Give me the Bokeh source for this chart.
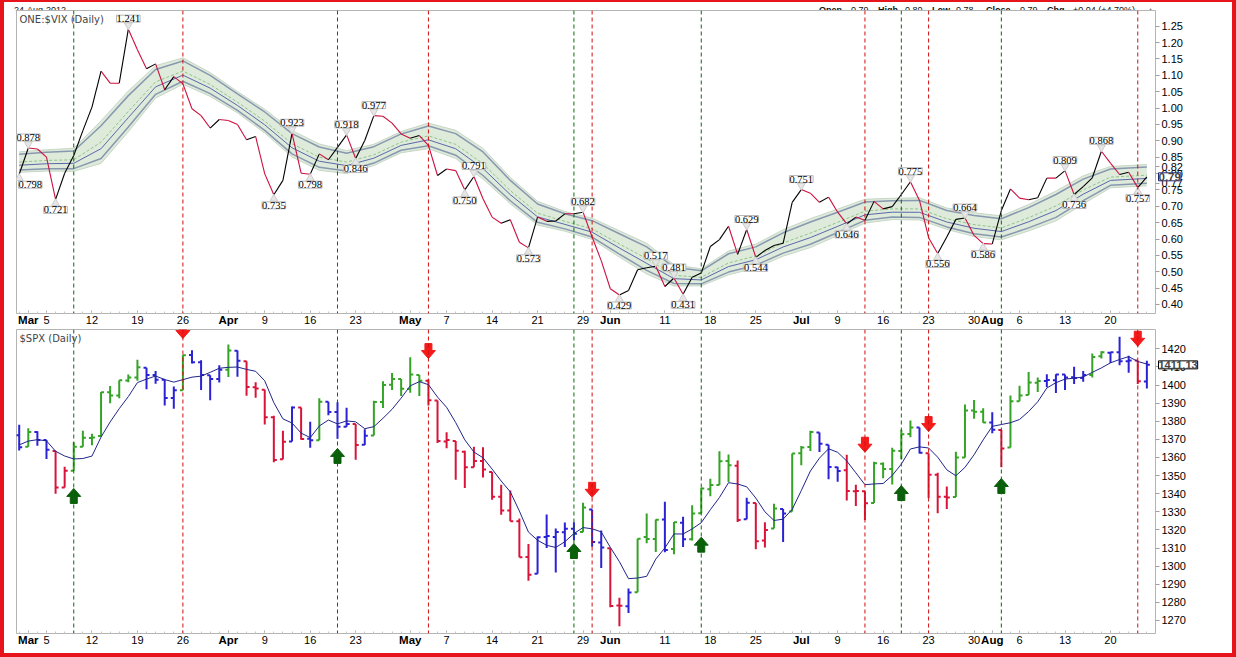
from bokeh.plotting import figure
from bokeh.layouts import column
from bokeh.models import (Range1d, Span, Label, LabelSet, FixedTicker, Div, LinearAxis,
                          NumeralTickFormatter, ColumnDataSource)
from bokeh.embed import file_html
from bokeh.resources import INLINE

# ---------------- data ----------------
# trading-day index 0 = 29 Feb 2012 ... 124 = 24 Aug 2012
day_tick_idx = [3, 8, 13, 18, 27, 32, 37, 47, 52, 57, 62, 71, 76, 81, 90, 95, 100, 105,
                110, 115, 120]
day_tick_labels = ["5", "12", "19", "26", "9", "16", "23", "7", "14", "21", "29", "11",
                   "18", "25", "9", "16", "23", "30", "6", "13", "20"]
month_tick_idx = [1, 23, 43, 65, 86, 107]
month_tick_labels = ["Mar", "Apr", "May", "Jun", "Jul", "Aug"]

vix_ratio = [0.798, 0.878, 0.875, 0.850, 0.721, 0.801, 0.855, 0.931, 1.003, 1.113,
             1.076, 1.076, 1.241, 1.178, 1.120, 1.135, 1.056, 1.096, 1.074, 0.998,
             0.977, 0.939, 0.965, 0.962, 0.950, 0.903, 0.913, 0.799, 0.735, 0.779,
             0.923, 0.801, 0.798, 0.860, 0.842, 0.880, 0.918, 0.846, 0.901, 0.977,
             0.975, 0.954, 0.921, 0.908, 0.916, 0.886, 0.794, 0.814, 0.809, 0.750,
             0.791, 0.723, 0.667, 0.648, 0.659, 0.590, 0.573, 0.667, 0.654, 0.655,
             0.677, 0.677, 0.682, 0.606, 0.534, 0.448, 0.429, 0.443, 0.506, 0.512,
             0.517, 0.455, 0.481, 0.431, 0.483, 0.496, 0.577, 0.598, 0.639, 0.553,
             0.629, 0.544, 0.565, 0.580, 0.587, 0.712, 0.751, 0.740, 0.712, 0.728,
             0.682, 0.646, 0.667, 0.657, 0.715, 0.692, 0.699, 0.736, 0.775, 0.718,
             0.604, 0.556, 0.606, 0.660, 0.664, 0.611, 0.586, 0.585, 0.687, 0.753,
             0.725, 0.720, 0.726, 0.786, 0.786, 0.809, 0.736, 0.760, 0.787, 0.868,
             0.832, 0.797, 0.804, 0.757, 0.790]

band_idx = [0, 3, 6, 9, 12, 15, 18, 21, 24, 27, 30, 33, 36, 39, 42, 45, 48, 51, 54,
            57, 60, 63, 66, 69, 72, 75, 78, 81, 84, 87, 90, 93, 96, 99, 102, 105,
            108, 111, 114, 117, 120, 124]
band_mid = [0.835, 0.840, 0.842, 0.896, 0.990, 1.080, 1.113, 1.072, 1.018, 0.960,
            0.891, 0.850, 0.835, 0.857, 0.896, 0.915, 0.889, 0.830, 0.748, 0.679,
            0.654, 0.631, 0.585, 0.540, 0.489, 0.483, 0.527, 0.548, 0.588, 0.618,
            0.651, 0.685, 0.692, 0.692, 0.662, 0.644, 0.634, 0.665, 0.701, 0.750,
            0.789, 0.795]
band_half = [0.024, 0.025, 0.027, 0.050, 0.048, 0.038, 0.031, 0.028, 0.025, 0.028,
             0.031, 0.031, 0.027, 0.025, 0.025, 0.030, 0.033, 0.036, 0.031, 0.028,
             0.023, 0.025, 0.031, 0.036, 0.025, 0.020, 0.028, 0.028, 0.031, 0.034,
             0.031, 0.028, 0.025, 0.026, 0.025, 0.028, 0.028, 0.031, 0.035, 0.033,
             0.025, 0.025]
band_last_val = [0.77, 0.82]            # lower / upper band on 24 Aug (marked on the axis)
vix_last_txt = "0.79"

peak_idx = [1, 12, 30, 36, 39, 50, 62, 70, 72, 80, 86, 98, 104, 115, 119]
peak_txt = ["0.878", "1.241", "0.923", "0.918", "0.977", "0.791", "0.682", "0.517",
            "0.481", "0.629", "0.751", "0.775", "0.664", "0.809", "0.868"]
trough_idx = [0, 4, 28, 32, 37, 49, 56, 66, 73, 81, 91, 101, 106, 116, 123]
trough_txt = ["0.798", "0.721", "0.735", "0.798", "0.846", "0.750", "0.573", "0.429",
              "0.431", "0.544", "0.646", "0.556", "0.586", "0.736", "0.757"]

spx_open = [1372.20, 1365.90, 1374.09, 1369.59, 1363.63, 1343.39, 1352.65, 1365.97, 1370.78, 1371.92,
            1395.95, 1394.17, 1402.55, 1404.17, 1409.59, 1405.52, 1402.89, 1392.78, 1397.11, 1416.55,
            1412.52, 1405.39, 1403.31, 1408.47, 1418.98, 1413.09, 1398.79, 1397.45, 1382.18, 1358.98,
            1368.77, 1387.61, 1370.27, 1369.57, 1390.78, 1385.08, 1376.96, 1378.53, 1366.97, 1372.11,
            1390.64, 1400.19, 1403.26, 1397.86, 1405.50, 1402.32, 1391.51, 1368.79, 1369.16, 1363.20,
            1354.58, 1358.11, 1351.93, 1338.36, 1330.78, 1324.82, 1305.05, 1295.73, 1316.09, 1316.02,
            1318.72, 1320.64, 1318.90, 1331.25, 1313.09, 1309.87, 1278.29, 1277.82, 1285.61, 1316.15,
            1314.99, 1325.72, 1309.40, 1324.02, 1314.88, 1329.19, 1342.42, 1344.83, 1358.04, 1355.43,
            1325.92, 1334.90, 1314.09, 1320.71, 1331.52, 1330.12, 1362.33, 1365.75, 1373.72, 1367.09,
            1354.66, 1352.96, 1341.40, 1341.29, 1334.81, 1356.50, 1353.68, 1363.58, 1373.01, 1376.51,
            1362.34, 1350.52, 1338.35, 1338.17, 1360.05, 1385.94, 1385.27, 1379.32, 1375.13, 1365.45,
            1391.04, 1394.46, 1401.23, 1402.26, 1402.58, 1405.87, 1404.36, 1403.89, 1405.57, 1415.84,
            1417.85, 1418.13, 1413.09, 1413.49, 1401.99]
spx_high = [1378.04, 1376.17, 1374.53, 1369.59, 1363.63, 1354.85, 1368.41, 1374.76, 1373.04, 1396.13,
            1399.42, 1402.63, 1405.88, 1414.00, 1409.59, 1407.75, 1402.89, 1399.18, 1416.58, 1419.15,
            1413.65, 1405.39, 1410.89, 1422.38, 1419.00, 1413.09, 1401.60, 1397.45, 1383.01, 1374.71,
            1388.13, 1387.61, 1379.66, 1392.76, 1390.78, 1390.46, 1387.40, 1378.53, 1375.57, 1391.37,
            1402.09, 1406.64, 1403.26, 1415.32, 1405.50, 1403.07, 1391.51, 1373.91, 1369.16, 1363.73,
            1365.88, 1365.66, 1351.93, 1344.94, 1341.78, 1326.36, 1312.24, 1316.39, 1328.49, 1320.71,
            1324.14, 1324.20, 1334.93, 1331.25, 1319.74, 1309.87, 1282.55, 1287.62, 1315.13, 1329.05,
            1325.81, 1335.52, 1324.31, 1327.28, 1333.68, 1343.32, 1348.22, 1363.46, 1361.57, 1358.27,
            1337.82, 1334.90, 1324.24, 1334.40, 1331.52, 1362.17, 1366.35, 1374.81, 1373.85, 1367.09,
            1354.87, 1361.54, 1345.00, 1341.29, 1357.70, 1357.26, 1365.36, 1375.26, 1380.39, 1376.51,
            1362.34, 1351.53, 1343.98, 1363.13, 1389.19, 1391.74, 1387.16, 1385.03, 1375.13, 1394.16,
            1399.63, 1407.14, 1404.14, 1405.95, 1405.98, 1405.87, 1410.03, 1407.73, 1417.44, 1418.71,
            1418.13, 1426.68, 1416.12, 1413.49, 1413.46]
spx_low = [1363.81, 1365.90, 1366.42, 1359.09, 1340.03, 1343.39, 1352.65, 1365.97, 1366.69, 1371.92,
           1389.97, 1392.72, 1401.47, 1402.43, 1397.68, 1400.64, 1388.73, 1386.87, 1397.11, 1411.95,
           1397.20, 1391.56, 1401.42, 1404.46, 1404.62, 1394.09, 1392.92, 1378.24, 1357.38, 1358.98,
           1368.77, 1369.85, 1365.38, 1369.57, 1383.29, 1370.30, 1376.96, 1358.79, 1366.82, 1372.11,
           1387.28, 1397.31, 1394.00, 1395.73, 1393.92, 1388.71, 1367.96, 1365.12, 1347.75, 1343.13,
           1354.58, 1348.89, 1336.61, 1328.41, 1324.79, 1304.86, 1291.98, 1295.73, 1310.04, 1296.53,
           1310.50, 1314.23, 1318.90, 1310.76, 1298.90, 1277.25, 1266.74, 1274.16, 1285.61, 1312.68,
           1307.77, 1307.73, 1306.62, 1310.51, 1314.14, 1329.19, 1338.61, 1344.83, 1346.45, 1324.41,
           1325.92, 1309.27, 1310.30, 1320.71, 1313.29, 1330.12, 1355.70, 1363.53, 1363.02, 1348.03,
           1346.65, 1336.27, 1333.25, 1325.41, 1334.81, 1348.51, 1345.07, 1358.96, 1371.21, 1362.19,
           1337.56, 1329.24, 1331.50, 1338.17, 1360.05, 1381.37, 1379.17, 1373.35, 1354.65, 1365.45,
           1391.04, 1394.46, 1396.13, 1398.80, 1395.62, 1397.32, 1400.60, 1401.83, 1404.15, 1414.67,
           1412.12, 1410.86, 1406.78, 1400.50, 1398.04]
spx_close = [1365.68, 1374.09, 1369.63, 1364.33, 1343.36, 1352.63, 1365.91, 1370.87, 1371.09, 1395.95,
             1394.28, 1402.60, 1404.17, 1409.75, 1405.52, 1402.89, 1392.78, 1397.11, 1416.51, 1412.52,
             1405.54, 1403.28, 1408.47, 1419.04, 1413.38, 1398.96, 1398.08, 1382.20, 1358.59, 1368.71,
             1387.57, 1370.26, 1369.57, 1390.78, 1385.14, 1376.92, 1378.53, 1366.94, 1371.97, 1390.69,
             1399.98, 1403.36, 1397.91, 1405.82, 1402.31, 1391.57, 1369.10, 1369.58, 1363.72, 1354.58,
             1357.99, 1353.39, 1338.35, 1330.66, 1324.80, 1304.86, 1295.22, 1315.99, 1316.63, 1318.86,
             1320.68, 1317.82, 1332.42, 1313.32, 1310.33, 1278.04, 1278.18, 1285.50, 1315.13, 1314.99,
             1325.66, 1308.93, 1324.18, 1314.88, 1329.10, 1342.84, 1344.78, 1357.98, 1355.69, 1325.51,
             1335.02, 1313.72, 1319.99, 1331.85, 1329.04, 1362.16, 1365.51, 1374.02, 1367.58, 1354.68,
             1352.46, 1341.47, 1341.45, 1334.76, 1356.78, 1353.64, 1363.67, 1372.78, 1376.51, 1362.66,
             1350.52, 1338.31, 1337.89, 1360.02, 1385.97, 1385.30, 1379.32, 1375.32, 1365.00, 1390.99,
             1394.23, 1401.35, 1402.22, 1402.80, 1405.87, 1404.11, 1403.93, 1405.53, 1415.51, 1418.16,
             1418.13, 1413.17, 1413.49, 1402.08, 1411.13]
spx_prior_close = [1363.46, 1365.74, 1367.59, 1372.18]   # 23-28 Feb, for the 5-day average
bar_state = ("bgbbrrgggg" "ggggbbbbgb" "bbbgbrrrrr" "brbgbbbrbg" "gggggrrrrr"
             "rrrrrrrbbb" "bbgbbrrbgg" "gbgbgggggr" "brrgbgggbb" "brrrgggggb"
             "rrrggggbrg" "gggbbbbbgg" "bbbrb")

buy_idx = [6, 35, 61, 75, 97, 108]
buy_tip = [1342.9, 1365.0, 1312.5, 1316.0, 1344.5, 1348.4]
sell_idx = [18, 45, 63, 93, 100, 123]
sell_tip = [1425.7, 1414.6, 1338.0, 1362.9, 1374.3, 1421.4]

header_left = "24-Aug-2012"
header_parts = [("Open", "0.79"), ("High", "0.80"), ("Low", "0.78"), ("Close", "0.79"),
                ("Chg", "+0.04 (+4.70%)")]

# ---------------- style / layout constants ----------------
FONT = "Liberation Sans"
W = 1228
X0, X1 = -0.297, 124.95
FRAME_W = 1139
LEFT_B = 12
TOP_Y0, TOP_Y1 = 0.3725, 1.298
TOP_FRAME_H = 303
BOT_Y0, BOT_Y1 = 1262.8, 1430.66
BOT_FRAME_H = 304
BAR_COL = {"g": "#35a326", "b": "#2a22d4", "r": "#d8143a"}
HDR_X = [(815, 847), (874, 901), (928, 952), (982, 1016), (1043, 1069)]


def base_fig(height, y0, y1, top, bottom):
    p = figure(width=W, height=height, x_range=Range1d(X0, X1), y_range=Range1d(y0, y1),
               output_backend="svg", toolbar_location=None, y_axis_location="right",
               min_border_left=LEFT_B, min_border_right=W - LEFT_B - FRAME_W,
               min_border_top=top, min_border_bottom=bottom)
    p.xgrid.visible = False
    p.ygrid.visible = False
    p.outline_line_color = "#b4b4b4"
    p.background_fill_color = "white"
    p.border_fill_color = "white"
    all_ticks = sorted(day_tick_idx + month_tick_idx)
    xa = p.xaxis[0]
    xa.ticker = FixedTicker(ticks=all_ticks, minor_ticks=list(range(len(spx_close))))
    overrides = {i: t for i, t in zip(day_tick_idx, day_tick_labels)}
    overrides.update({i: "" for i in month_tick_idx})
    xa.major_label_overrides = overrides
    xa.axis_line_color = None
    xa.major_tick_in = 3
    xa.major_tick_out = 0
    xa.minor_tick_in = 2
    xa.minor_tick_out = 0
    xa.major_tick_line_color = "#a0a0a0"
    xa.minor_tick_line_color = "#c8c8c8"
    xa.major_label_standoff = 2
    xa.major_label_text_font = FONT
    xa.major_label_text_font_size = "11px"
    xa.major_label_text_color = "black"
    # bold month names, drawn on the same row as the day numbers
    mx = LinearAxis(ticker=FixedTicker(ticks=month_tick_idx),
                    major_label_overrides={i: t for i, t in zip(month_tick_idx, month_tick_labels)},
                    axis_line_color=None, major_tick_line_color=None, minor_tick_line_color=None,
                    major_tick_in=0, major_tick_out=0, minor_tick_in=0, minor_tick_out=0,
                    major_label_standoff=-13, major_label_text_font=FONT,
                    major_label_text_font_size="11.5px", major_label_text_font_style="bold",
                    major_label_text_color="black")
    p.add_layout(mx, "below")
    ya = p.yaxis[0]
    ya.axis_line_color = None
    ya.major_tick_in = 0
    ya.major_tick_out = 4
    ya.minor_tick_line_color = None
    ya.major_tick_line_color = "#a0a0a0"
    ya.major_label_standoff = 2
    ya.major_label_text_font = FONT
    ya.major_label_text_font_size = "11px"
    ya.major_label_text_color = "black"
    for i in buy_idx:
        p.add_layout(Span(location=i, dimension="height", line_color="#0b6a0b",
                          line_dash="4 3", line_width=1))
    for i in sell_idx:
        p.add_layout(Span(location=i, dimension="height", line_color="#d01010",
                          line_dash="4 3", line_width=1))
    return p


n = len(spx_close)
idx = list(range(n))

# ---------------- header strip ----------------
hdr = ('<div style="position:relative;width:%dpx;height:8px;'
       'font-family:\'Liberation Sans\',Arial,sans-serif;font-size:9px;line-height:8px;'
       'color:#111;white-space:nowrap;">' % W)
hdr += '<span style="position:absolute;left:10px;top:0px;">%s</span>' % header_left
for (k, v), (xa_, xb_) in zip(header_parts, HDR_X):
    hdr += '<span style="position:absolute;left:%dpx;top:0px;font-weight:bold;">%s</span>' % (xa_, k)
    hdr += '<span style="position:absolute;left:%dpx;top:0px;">%s</span>' % (xb_, v)
hdr += '<span style="position:absolute;left:1143px;top:0px;color:#777;font-size:7px;">&#9650;</span></div>'
p0 = Div(text=hdr, width=W, height=8, margin=0)

# ---------------- top panel: ONE:$VIX ----------------
p1 = base_fig(319, TOP_Y0, TOP_Y1, 0, 16)
top_ticks = sorted([round(0.40 + 0.05 * k, 2) for k in range(18)] + band_last_val)
p1.yaxis[0].ticker = FixedTicker(ticks=top_ticks)
p1.yaxis[0].formatter = NumeralTickFormatter(format="0.00")

outer_hi = [m + h * 1.3 for m, h in zip(band_mid, band_half)]
outer_lo = [m - h * 1.3 for m, h in zip(band_mid, band_half)]
p1.varea(x=band_idx, y1=outer_lo, y2=outer_hi, fill_color="#deeada", fill_alpha=1.0)
p1.line(band_idx, outer_hi, line_color="#c6d6c6", line_width=1)
p1.line(band_idx, outer_lo, line_color="#c6d6c6", line_width=1)
p1.line(band_idx, [m + h for m, h in zip(band_mid, band_half)], line_color="#8898b0", line_width=1.5)
p1.line(band_idx, [m - h for m, h in zip(band_mid, band_half)], line_color="#8898b0", line_width=1.5)
p1.line(band_idx, [m - h * 0.4 for m, h in zip(band_mid, band_half)], line_color="#5a68aa", line_width=1)
p1.line(band_idx, band_mid, line_color="#8fc48a", line_width=1, line_dash="3 2")

seg = ColumnDataSource(dict(
    x0=idx[:-1], y0=vix_ratio[:-1], x1=idx[1:], y1=vix_ratio[1:],
    c=["black" if b > a else "#cc1040" for a, b in zip(vix_ratio[:-1], vix_ratio[1:])]))
p1.segment("x0", "y0", "x1", "y1", source=seg, line_color="c", line_width=1.1)

ppu_top = TOP_FRAME_H / (TOP_Y1 - TOP_Y0)
p1.scatter(peak_idx, [vix_ratio[i] + 4 / ppu_top for i in peak_idx],
           marker="inverted_triangle", size=8, fill_color="#e6e6e6", line_color="#cccccc")
p1.scatter(trough_idx, [vix_ratio[i] - 4 / ppu_top for i in trough_idx],
           marker="triangle", size=8, fill_color="#e6e6e6", line_color="#cccccc")

pk = ColumnDataSource(dict(x=peak_idx, y=[vix_ratio[i] for i in peak_idx], t=peak_txt,
                           xo=[0] * len(peak_idx)))
tr = ColumnDataSource(dict(x=trough_idx, y=[vix_ratio[i] for i in trough_idx], t=trough_txt,
                           xo=[11 if i == 0 else 0 for i in trough_idx]))
for src, base, off in ((pk, "bottom", 7), (tr, "top", -7)):
    p1.add_layout(LabelSet(x="x", y="y", text="t", source=src, text_align="center",
                           text_baseline=base, x_offset="xo", y_offset=off, text_font=FONT,
                           text_font_size="10.5px", text_color="black",
                           background_fill_color="white", border_line_color="#b8b8b8",
                           border_line_width=1))

p1.add_layout(Label(x=X0, y=TOP_Y1, x_offset=3, y_offset=-3, text="ONE:$VIX (Daily)",
                    text_baseline="top", text_font="DejaVu Sans", text_font_size="10px"))
p1.add_layout(Label(x=X1, y=vix_ratio[-1], x_offset=3, text=vix_last_txt, text_baseline="middle",
                    text_font=FONT, text_font_size="11.5px", text_font_style="bold",
                    background_fill_color="white", border_line_color="#1d2478",
                    border_line_width=1), "right")

# ---------------- bottom panel: $SPX ----------------
p2 = base_fig(324, BOT_Y0, BOT_Y1, 0, 20)
p2.yaxis[0].ticker = FixedTicker(ticks=list(range(1270, 1421, 10)))

ma = []
closes_all = spx_prior_close + spx_close
for k in range(n):
    win = closes_all[k:k + 5]
    ma.append(sum(win) / 5.0)

tick = 0.33
bars = ColumnDataSource(dict(
    x=idx, xl=[i - tick for i in idx], xr=[i + tick for i in idx],
    o=spx_open, h=spx_high, l=spx_low, c=spx_close,
    col=[BAR_COL[s] for s in bar_state]))
p2.segment("x", "l", "x", "h", source=bars, line_color="col", line_width=2)
p2.segment("xl", "o", "x", "o", source=bars, line_color="col", line_width=2)
p2.segment("x", "c", "xr", "c", source=bars, line_color="col", line_width=2)
p2.line(idx, ma, line_color="#1f2588", line_width=1)

pxu = FRAME_W / (X1 - X0)
ppu = BOT_FRAME_H / (BOT_Y1 - BOT_Y0)
shape = [(0, 0), (7, 8), (3.5, 8), (3.5, 15), (-3.5, 15), (-3.5, 8), (-7, 8)]
sx, sy = [], []
for i, t in zip(sell_idx, sell_tip):
    sx.append([i + dx / pxu for dx, dy in shape])
    sy.append([t + dy / ppu for dx, dy in shape])
p2.patches(sx, sy, fill_color="#f41a1a", line_color="#f41a1a")
bx, by = [], []
for i, t in zip(buy_idx, buy_tip):
    bx.append([i + dx / pxu for dx, dy in shape])
    by.append([t - dy / ppu for dx, dy in shape])
p2.patches(bx, by, fill_color="#0a5f0a", line_color="#0a5f0a")

p2.add_layout(Label(x=X0, y=BOT_Y1, x_offset=3, y_offset=-3, text="$SPX (Daily)",
                    text_baseline="top", text_font="DejaVu Sans", text_font_size="10px"))
p2.add_layout(Label(x=X1, y=spx_close[-1], x_offset=3, text="%.2f" % spx_close[-1],
                    text_baseline="middle", text_font=FONT, text_font_size="11px",
                    text_font_style="bold", background_fill_color="white",
                    border_line_color="black", border_line_width=1), "right")

page = column(p0, p1, p2, styles={"border-left": "4px solid #e8141c",
                                  "border-top": "2px solid #e8141c",
                                  "border-right": "4px solid #e8141c",
                                  "border-bottom": "4px solid #e8141c"})
open("out.html", "w").write(file_html(page, INLINE))
